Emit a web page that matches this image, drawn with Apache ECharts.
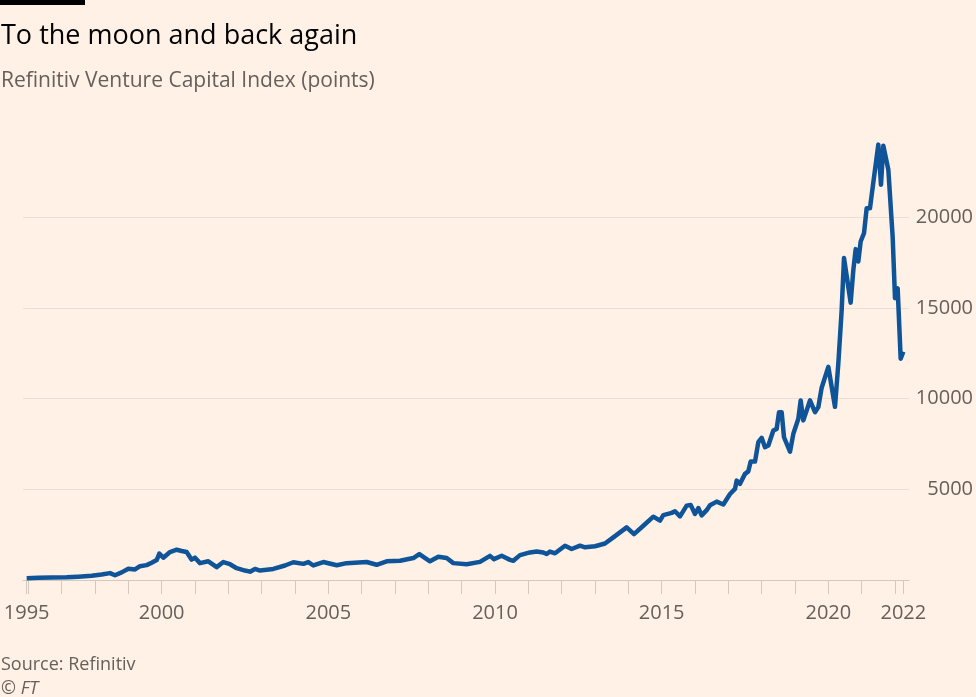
<!DOCTYPE html>
<html>
<head>
<meta charset="utf-8">
<script src="https://cdn.jsdelivr.net/npm/echarts@6/dist/echarts.min.js"></script>
<style>
html,body{margin:0;padding:0;background:#fff1e5;}
#chart{width:976px;height:697px;}
</style>
</head>
<body>
<div id="chart"></div>
<script>
// Decimal-year positions of the traced points
var years = [1995.95,1996.3,1996.7,1997.15,1997.5,1997.9,1998.2,1998.45,1998.6,1998.8,
1999.0,1999.2,1999.35,1999.55,1999.7,1999.85,1999.93,2000.05,2000.25,2000.45,
2000.6,2000.75,2000.9,2001.0,2001.15,2001.4,2001.65,2001.85,2002.05,2002.25,
2002.5,2002.65,2002.8,2002.95,2003.35,2003.7,2003.95,2004.25,2004.4,2004.55,
2004.85,2005.25,2005.55,2006.15,2006.45,2006.75,2007.15,2007.55,2007.73,2007.85,
2008.05,2008.3,2008.55,2008.75,2009.15,2009.55,2009.85,2009.97,2010.2,2010.45,
2010.55,2010.75,2011.05,2011.25,2011.45,2011.55,2011.65,2011.8,2012.1,2012.3,
2012.55,2012.7,2013.0,2013.3,2013.55,2013.95,2014.17,2014.45,2014.75,2014.95,
2015.05,2015.3,2015.4,2015.55,2015.75,2015.87,2016.0,2016.1,2016.2,2016.35,
2016.45,2016.65,2016.85,2017.05,2017.2,2017.25,2017.35,2017.5,2017.6,2017.67,
2017.8,2017.9,2018.0,2018.1,2018.2,2018.35,2018.45,2018.52,2018.6,2018.67,
2018.73,2018.85,2018.95,2019.1,2019.17,2019.25,2019.45,2019.6,2019.7,2019.8,
2020.0,2020.2,2020.3,2020.4,2020.47,2020.55,2020.67,2020.75,2020.82,2020.9,
2020.97,2021.07,2021.15,2021.25,2021.35,2021.5,2021.58,2021.65,2021.8,2021.85,
2021.93,2022.0,2022.08,2022.12,2022.17,2022.25];
// Index values (points)
var values = [100,120,140,150,180,230,300,380,260,420,
620,580,760,820,950,1100,1450,1230,1540,1670,
1600,1540,1120,1230,930,1030,710,990,870,650,
520,460,610,520,610,800,980,890,990,800,
990,810,930,990,840,1030,1060,1210,1430,1280,
1030,1280,1210,930,870,1000,1330,1150,1340,1110,
1060,1370,1520,1570,1520,1430,1570,1470,1890,1710,
1890,1800,1860,2010,2350,2900,2530,2990,3490,3270,
3580,3700,3790,3510,4100,4140,3640,3970,3560,3850,
4120,4320,4160,4740,5020,5480,5300,5850,5990,6530,
6530,7600,7840,7320,7410,8240,8330,9250,9250,7870,
7870,7070,8060,8890,9900,8800,9900,9250,9530,10600,
11750,9550,11940,14880,17750,16770,15290,17090,18240,17560,
18660,19120,20500,20500,21930,24000,21790,23940,22620,22530,
18900,15530,16080,16000,12200,12580];

// Axis ticks and labels
var tickYears = [1995.95,1996,1997,1998,1999,2000,2001,2002,2003,2004,2005,2006,2007,2008,2009,
2010,2011,2012,2013,2014,2015,2016,2017,2018,2019,2020,2021,2022,2022.25];
var labelYears = [1995.95,2000,2005,2010,2015,2020,2022.25];
var labelTexts = ['1995','2000','2005','2010','2015','2020','2022'];
var yTicks = [5000,10000,15000,20000];

var data = years.map(function(y,i){return [y, values[i]];});
var grey = '#66605c';
var font = '"Open Sans", "Noto Sans", sans-serif';

var chart = echarts.init(document.getElementById('chart'), null, {renderer:'canvas'});
chart.setOption({
  backgroundColor:'#fff1e5',
  animation:false,
  textStyle:{fontFamily:font},
  title:[
    {text:'To the moon and back again', left:1, top:23, padding:0,
     textStyle:{fontSize:27, fontWeight:'normal', color:'#000000', fontFamily:font}},
    {text:'Refinitiv Venture Capital Index (points)', left:1, top:71, padding:0,
     textStyle:{fontSize:21, fontWeight:'normal', color:grey, fontFamily:font}},
    {text:'Source: Refinitiv', left:1, top:656, padding:0,
     textStyle:{fontSize:18, fontWeight:'normal', color:grey, fontFamily:font}},
    {text:'© FT', left:1, top:680, padding:0,
     textStyle:{fontSize:18, fontWeight:'normal', fontStyle:'italic', color:grey, fontFamily:font}}
  ],
  graphic:[{type:'rect', left:0, top:0, shape:{width:85, height:5}, style:{fill:'#000'}}],
  grid:{left:23, right:67, top:126.5, bottom:117, containLabel:false},
  xAxis:{
    type:'value', min:1995.84, max:2022.42,
    axisLine:{show:true, lineStyle:{color:'#d4c9bf', width:1}},
    axisTick:{show:true, length:14, customValues:tickYears, lineStyle:{color:'#d4c9bf'}},
    splitLine:{show:false},
    axisLabel:{customValues:labelYears, margin:23, fontSize:20, color:grey, fontFamily:font,
      formatter:function(v){ var i = labelYears.indexOf(v); return i>=0 ? labelTexts[i] : ''; }}
  },
  yAxis:{
    type:'value', position:'right', min:0, max:25000, interval:5000,
    axisLine:{show:false}, axisTick:{show:false},
    splitLine:{show:true, showMinLine:false, showMaxLine:false, lineStyle:{color:'#e9dfd6', width:1}},
    axisLabel:{customValues:yTicks, align:'right', margin:64, fontSize:20, color:grey, fontFamily:font,
      formatter:function(v){ return String(v); }}
  },
  series:[{
    type:'line', data:data, showSymbol:false, symbol:'none',
    lineStyle:{color:'#0f5499', width:4.5, join:'round'},
    itemStyle:{color:'#0f5499'}, z:5
  }]
});
</script>
</body>
</html>
